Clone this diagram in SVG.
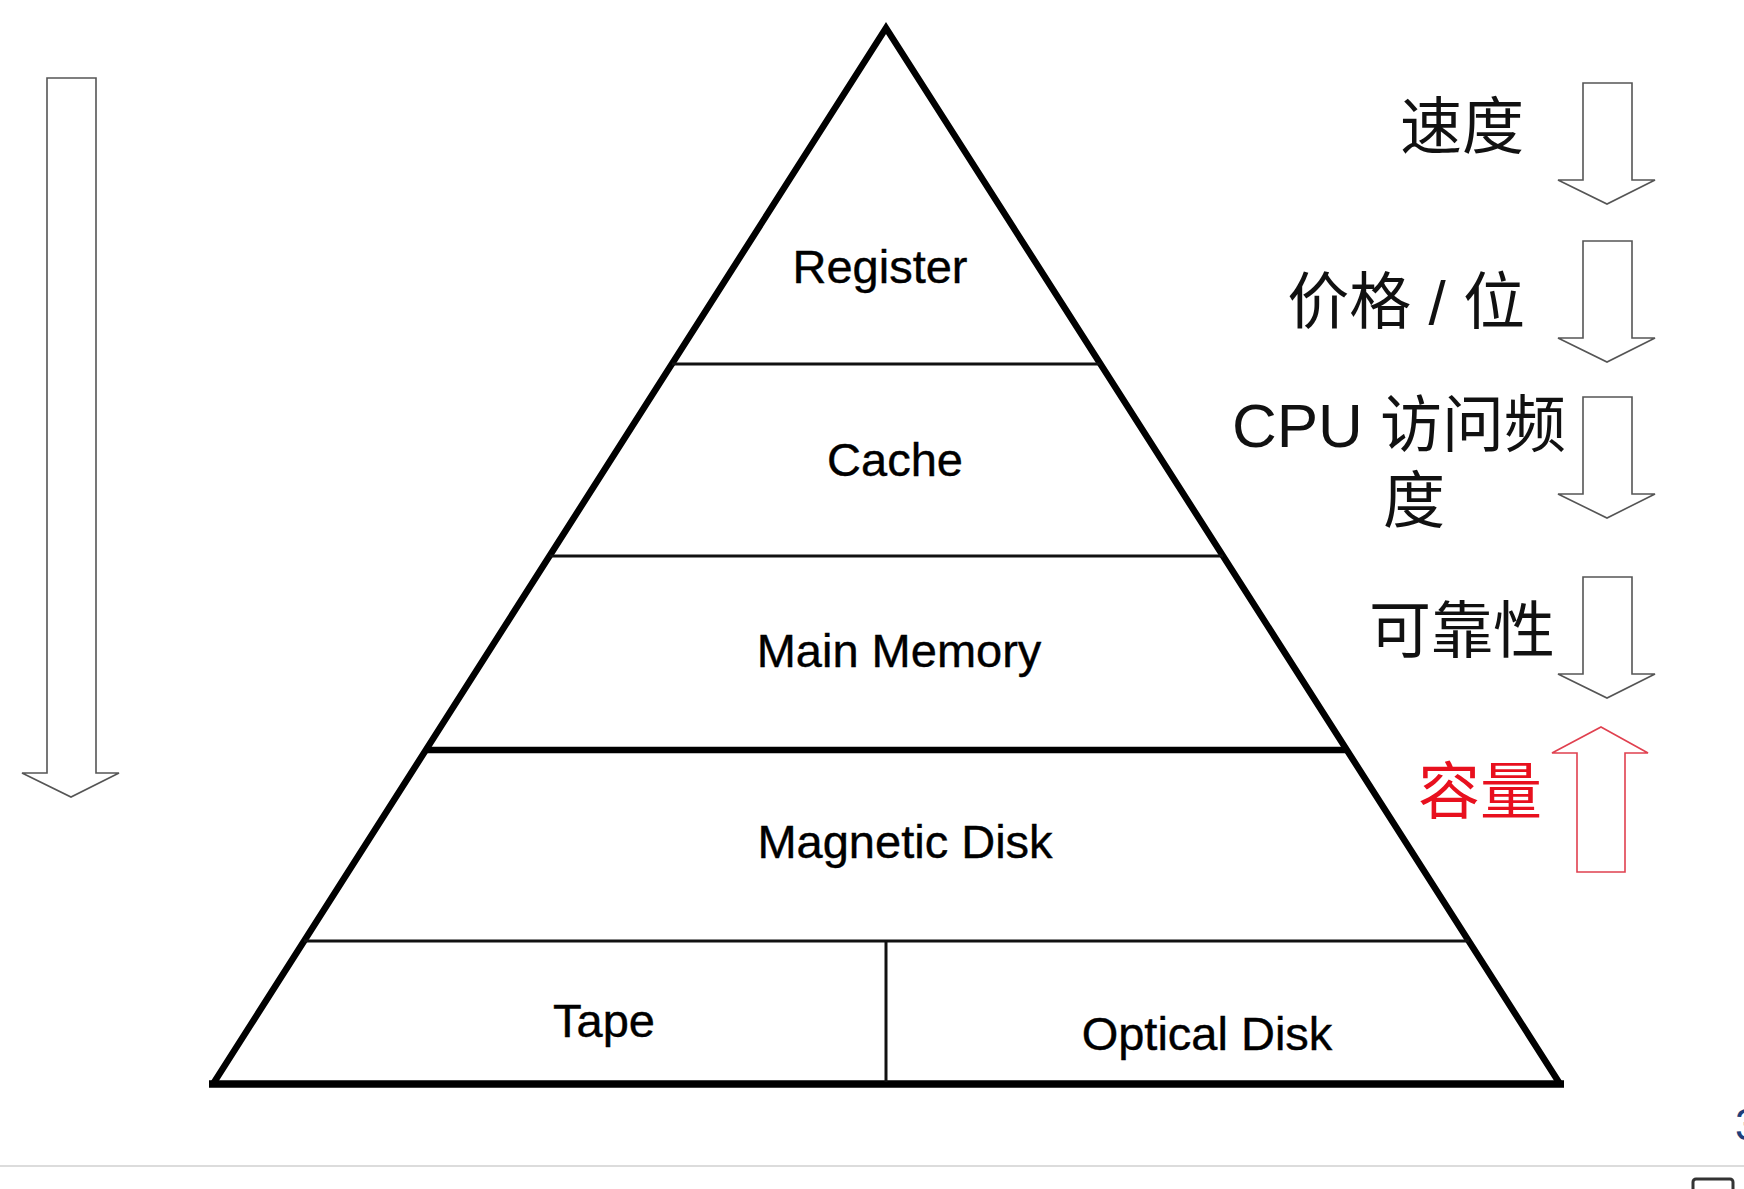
<svg xmlns="http://www.w3.org/2000/svg" width="1744" height="1189" viewBox="0 0 1744 1189">
<style>
.lbl{font-family:"Liberation Sans",Arial,sans-serif;font-size:47px;fill:#000;text-anchor:middle;stroke:#000;stroke-width:0.4}
.cjk{font-family:"Liberation Sans","Noto Sans CJK SC",sans-serif;font-size:62px;fill:#111}
.red{fill:#e8101e}
.side{fill:none;stroke:#000;stroke-width:6.5;stroke-linejoin:miter;stroke-miterlimit:20}
.div{stroke:#111;stroke-width:3}
.arr{fill:#fff;stroke:#555;stroke-width:1.6;stroke-linejoin:miter}
</style>
<defs>
<path id="down" d="M1583,0 V97 H1558 L1607,121 L1655,97 H1632 V0 Z"/>
</defs>
<rect width="1744" height="1189" fill="#fff"/>

<g id="pyramid">
<polyline class="side" points="213,1084 886,28 1560,1084"/>
<line x1="209" y1="1084" x2="1564" y2="1084" stroke="#000" stroke-width="7.5"/>
</g>

<g id="connectors">
<line class="div" x1="672" y1="364" x2="1100" y2="364"/>
<line class="div" x1="550" y1="556" x2="1223" y2="556"/>
<line x1="426" y1="750" x2="1347" y2="750" stroke="#000" stroke-width="6.5"/>
<line class="div" x1="304" y1="941" x2="1469" y2="941" stroke-width="3.2"/>
<line class="div" x1="886" y1="941" x2="886" y2="1082" stroke-width="2.2"/>
</g>

<g id="register"><text class="lbl" x="880" y="283">Register</text></g>
<g id="cache"><text class="lbl" x="895" y="476">Cache</text></g>
<g id="main-memory"><text class="lbl" x="899" y="667">Main Memory</text></g>
<g id="magnetic-disk"><text class="lbl" x="905" y="858">Magnetic Disk</text></g>
<g id="tape"><text class="lbl" x="604" y="1037">Tape</text></g>
<g id="optical-disk"><text class="lbl" x="1207" y="1050">Optical Disk</text></g>

<g id="left-arrow">
<path class="arr" d="M47,78 H96 V773 H119 L71,797 L22,773 H47 Z"/>
</g>

<g id="speed">
<text class="cjk" x="1524" y="149" text-anchor="end">速度</text>
<use href="#down" class="arr" transform="translate(0,83)"/>
</g>
<g id="price">
<text class="cjk" x="1525" y="324" text-anchor="end">价格 / 位</text>
<use href="#down" class="arr" transform="translate(0,241)"/>
</g>
<g id="cpu-freq">
<text class="cjk" x="1399" y="447" text-anchor="middle">CPU 访问频</text>
<text class="cjk" x="1414" y="523" text-anchor="middle">度</text>
<use href="#down" class="arr" transform="translate(0,397)"/>
</g>
<g id="reliability">
<text class="cjk" x="1555" y="653" text-anchor="end">可靠性</text>
<use href="#down" class="arr" transform="translate(0,577)"/>
</g>
<g id="capacity">
<text class="cjk red" x="1542" y="814" text-anchor="end">容量</text>
<path d="M1601,727 L1648,753 H1625 V872 H1577 V753 H1552 Z" fill="#fff" stroke="#e0404f" stroke-width="1.6"/>
</g>

<g id="page-footer">
<line x1="0" y1="1166" x2="1744" y2="1166" stroke="#dcdcdc" stroke-width="2"/>
<text x="1735" y="1140" font-family="Liberation Sans,Arial,sans-serif" font-size="44" fill="#1f3f7a">3</text>
<rect x="1693" y="1179" width="40" height="30" rx="3" fill="none" stroke="#333" stroke-width="3"/>
</g>
</svg>
